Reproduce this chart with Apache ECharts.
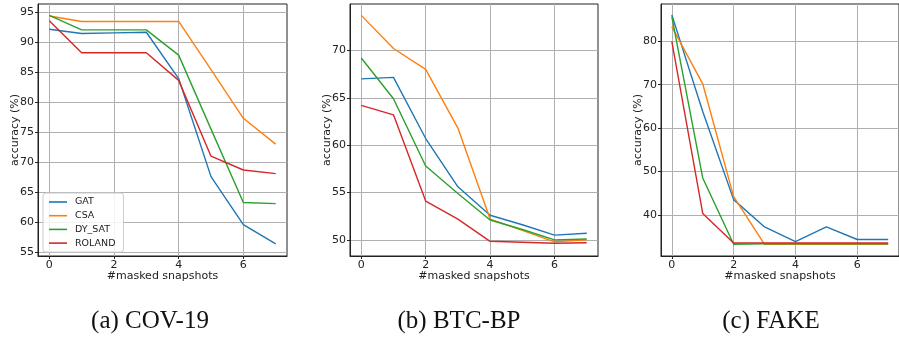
<!DOCTYPE html>
<html>
<head>
<meta charset="utf-8">
<script src="https://cdn.jsdelivr.net/npm/echarts@6/dist/echarts.min.js"></script>
<style>
html,body{margin:0;padding:0;background:#fff;}
#chart{width:899px;height:339px;}
</style>
</head>
<body>
<div id="chart"></div>
<script>
// ---- data ----
const xValues = [0, 1, 2, 3, 4, 5, 6, 7];
const seriesNames = ['GAT', 'CSA', 'DY_SAT', 'ROLAND'];
const captions = ['(a) COV-19', '(b) BTC-BP', '(c) FAKE'];

const covGAT    = [92.1, 91.4, 91.5, 91.6, 83.9, 67.6, 59.6, 56.4];
const covCSA    = [94.3, 93.4, 93.4, 93.4, 93.4, 85.4, 77.3, 73.0];
const covDYSAT  = [94.4, 92.0, 92.0, 92.0, 87.8, 75.5, 63.3, 63.1];
const covROLAND = [93.5, 88.2, 88.2, 88.2, 83.6, 71.0, 68.7, 68.1];

const btcGAT    = [67.0, 67.15, 60.7, 55.6, 52.6, 51.6, 50.5, 50.7];
const btcCSA    = [73.7, 70.2, 68.0, 61.8, 52.2, 51.0, 49.8, 50.0];
const btcDYSAT  = [69.2, 64.9, 57.8, 54.9, 52.1, 51.1, 50.0, 50.1];
const btcROLAND = [64.2, 63.2, 54.1, 52.2, 49.85, 49.75, 49.65, 49.7];

const fakeGAT    = [86.1, 63.8, 43.5, 37.2, 33.8, 37.2, 34.3, 34.3];
const fakeCSA    = [83.4, 70.2, 44.2, 33.2, 33.2, 33.2, 33.2, 33.2];
const fakeDYSAT  = [85.7, 48.5, 33.2, 33.3, 33.3, 33.3, 33.3, 33.3];
const fakeROLAND = [80.0, 40.3, 33.5, 33.5, 33.5, 33.5, 33.5, 33.5];

const xTicks = [0, 2, 4, 6];
const covYTicks  = [55, 60, 65, 70, 75, 80, 85, 90, 95];
const btcYTicks  = [50, 55, 60, 65, 70];
const fakeYTicks = [40, 50, 60, 70, 80];

// ---- styling / layout ----
const colors = ['#1f77b4', '#ff7f0e', '#2ca02c', '#d62728'];
const panels = [
  {data: [covGAT, covCSA, covDYSAT, covROLAND], yTicks: covYTicks, ymin: 54.4, ymax: 96.3, left: 38, width: 249},
  {data: [btcGAT, btcCSA, btcDYSAT, btcROLAND], yTicks: btcYTicks, ymin: 48.3, ymax: 74.9, left: 350, width: 248},
  {data: [fakeGAT, fakeCSA, fakeDYSAT, fakeROLAND], yTicks: fakeYTicks, ymin: 30.5, ymax: 88.6, left: 661, width: 249}
];
const captionX = [150, 459, 771];

const font = 'DejaVu Sans';
const grids = [], xAxes = [], yAxes = [], series = [], graphics = [];
panels.forEach((p, i) => {
  grids.push({left: p.left, top: 4, width: p.width, height: 252, show: true,
    borderColor: '#222', borderWidth: 1, backgroundColor: 'transparent'});
  xAxes.push({
    type: 'value', gridIndex: i, min: -0.35, max: 7.35,
    name: '#masked snapshots', nameLocation: 'middle', nameGap: 15, nameMoveOverlap: false,
    nameTextStyle: {fontFamily: font, fontSize: 11, color: '#222'},
    axisLine: {show: true, onZero: false, lineStyle: {color: '#222', width: 1}},
    axisTick: {show: true, length: 3, customValues: xTicks, lineStyle: {color: '#222'}},
    axisLabel: {customValues: xTicks, fontFamily: font, fontSize: 11, color: '#222', margin: 4},
    splitLine: {show: true, lineStyle: {color: '#b0b0b0', width: 1}}
  });
  yAxes.push({
    type: 'value', gridIndex: i, min: p.ymin, max: p.ymax,
    name: 'accuracy (%)', nameLocation: 'middle', nameGap: 17, nameMoveOverlap: false,
    nameTextStyle: {fontFamily: font, fontSize: 11, color: '#222'},
    axisLine: {show: true, onZero: false, lineStyle: {color: '#222', width: 1}},
    axisTick: {show: true, length: 3, customValues: p.yTicks, lineStyle: {color: '#222'}},
    axisLabel: {customValues: p.yTicks, fontFamily: font, fontSize: 11, color: '#222', margin: 4},
    splitLine: {show: true, lineStyle: {color: '#b0b0b0', width: 1}}
  });
  p.data.forEach((vals, k) => {
    series.push({
      type: 'line', name: seriesNames[k], xAxisIndex: i, yAxisIndex: i,
      data: xValues.map((x, j) => [x, vals[j]]),
      showSymbol: false, symbol: 'none', animation: false,
      lineStyle: {color: colors[k], width: 1.4}, itemStyle: {color: colors[k]}
    });
  });
  graphics.push({type: 'text', x: captionX[i], y: 321,
    style: {text: captions[i], font: '25px "Liberation Serif"', fill: '#111',
      textAlign: 'center', textVerticalAlign: 'middle'}});
});

const chart = echarts.init(document.getElementById('chart'), null, {renderer: 'canvas'});
chart.setOption({
  animation: false,
  color: colors,
  grid: grids, xAxis: xAxes, yAxis: yAxes, series: series,
  legend: {
    data: seriesNames.map(n => ({name: n, icon: 'rect'})),
    orient: 'vertical', left: 43, top: 193,
    padding: [4, 8, 4, 6], itemGap: 3.7, itemWidth: 18, itemHeight: 1.6,
    backgroundColor: 'rgba(255,255,255,0.85)', borderColor: '#ccc', borderWidth: 1, borderRadius: 3,
    textStyle: {fontFamily: font, fontSize: 9.5, lineHeight: 10, color: '#222', padding: [0, 0, 0, 3]},
    selectedMode: false
  },
  graphic: graphics
});
</script>
</body>
</html>
